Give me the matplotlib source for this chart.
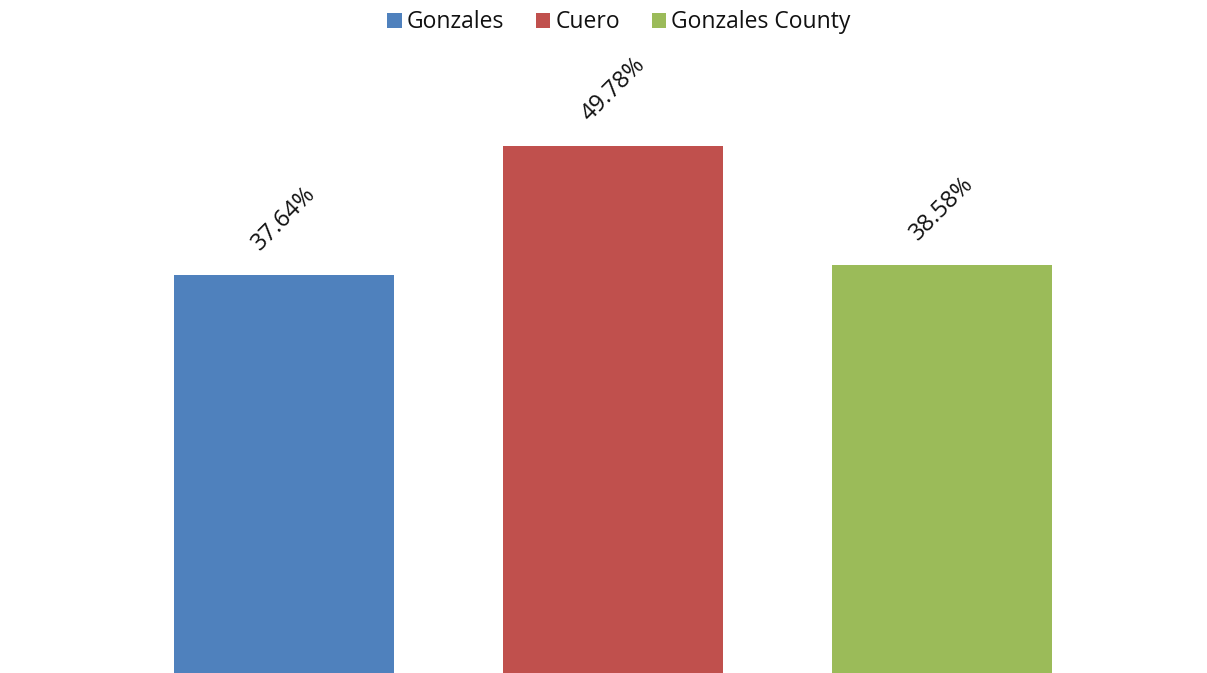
import matplotlib
matplotlib.use("Agg")
import matplotlib.pyplot as plt

# Share of population, by place
places = ["Gonzales", "Cuero", "Gonzales County"]
values = [37.64, 49.78, 38.58]
colors = ["#4F81BD", "#C0504D", "#9BBB59"]

plt.rcParams["font.family"] = ["Open Sans", "DejaVu Sans"]

W, H = 1207, 673
fig = plt.figure(figsize=(W / 100, H / 100), dpi=100)
ax = fig.add_axes([0, -2 / H, 1, 638 / H])

bar_width = 0.67
for i, (name, val, col) in enumerate(zip(places, values, colors)):
    ax.bar(i, val, width=bar_width, color=col, label=name, zorder=2)
    ax.annotate(f"{val:.2f}%", xy=(i, val), xytext=(0, 56),
                textcoords="offset pixels", ha="center", va="center",
                rotation=45, fontsize=17, color="#111111")

ax.set_xlim(-0.863, 2.805)
ax.set_ylim(0, 60)
ax.axis("off")

fig.legend(loc="center", bbox_to_anchor=(619 / W, 1 - 22.5 / H), ncol=3,
           frameon=False, fontsize=16.5, handlelength=0.62, handleheight=0.62,
           handletextpad=0.22, columnspacing=1.4, borderaxespad=0,
           labelcolor="#111111")

fig.savefig("out.png", dpi=100, facecolor="white")
